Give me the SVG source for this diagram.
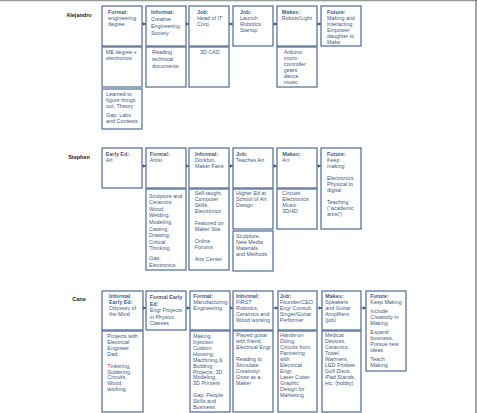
<svg xmlns="http://www.w3.org/2000/svg" width="477" height="413" viewBox="0 0 477 413">
<defs>
<style>
.box{fill:#fff;stroke:#4f6a92;stroke-width:1.2}
.t{font-family:"Liberation Sans",Arial,sans-serif;font-size:5.4px;fill:#3f5a82}
.b{font-weight:bold}
.name{font-family:"Liberation Sans",Arial,sans-serif;font-size:5.5px;font-weight:bold;fill:#222;text-anchor:middle}
.arr{stroke:#3f5a82;stroke-width:1;fill:none;marker-end:url(#ah)}
</style>
<marker id="ah" markerUnits="userSpaceOnUse" markerWidth="4" markerHeight="4" refX="3.5" refY="2" orient="auto">
<path d="M0,0 L3.5,2 L0,4 Z" fill="#3f5a82"/>
</marker>
</defs>
<rect x="0" y="0" width="477" height="413" fill="#fff"/>
<line x1="0" y1="0.5" x2="477" y2="0.5" stroke="#9a9a9a" stroke-width="1.5"/>
<line x1="476" y1="0" x2="476" y2="413" stroke="#555" stroke-width="1"/>

<text class="name" x="79" y="17">Alejandro</text>
<text class="name" x="79" y="158.5">Stephen</text>
<text class="name" x="79" y="301">Cane</text>

<g id="connectors">
<line class="arr" x1="142" y1="24" x2="146" y2="24"/>
<line class="arr" x1="186" y1="24" x2="189" y2="24"/>
<line class="arr" x1="229" y1="24" x2="233" y2="24"/>
<line class="arr" x1="273" y1="24" x2="277" y2="24"/>
<line class="arr" x1="317" y1="24" x2="321" y2="24"/>
<line class="arr" x1="142" y1="166" x2="146" y2="166"/>
<line class="arr" x1="186" y1="166" x2="189" y2="166"/>
<line class="arr" x1="229" y1="166" x2="233" y2="166"/>
<line class="arr" x1="273" y1="166" x2="277" y2="166"/>
<line class="arr" x1="317" y1="166" x2="321" y2="166"/>
<line class="arr" x1="143" y1="308" x2="146" y2="308"/>
<line class="arr" x1="186" y1="308" x2="190" y2="308"/>
<line class="arr" x1="230" y1="308" x2="233" y2="308"/>
<line class="arr" x1="273" y1="308" x2="278" y2="308"/>
<line class="arr" x1="317" y1="308" x2="322" y2="308"/>
<line class="arr" x1="361" y1="308" x2="366" y2="308"/>
</g>

<!-- Alejandro -->
<g id="a1"><rect class="box" x="102" y="6" width="40" height="40"/>
<text class="t"><tspan class="b" x="108" y="14.2">Formal:</tspan><tspan x="108" y="20.2">engineering</tspan><tspan x="108" y="26.2">degree</tspan></text></g>
<g id="a2"><rect class="box" x="146" y="6" width="40" height="40"/>
<text class="t"><tspan class="b" x="151" y="14.2">Informal:</tspan><tspan x="151" y="21.2">Creative</tspan><tspan x="151" y="27.9">Engineering</tspan><tspan x="151" y="34.6">Society</tspan></text></g>
<g id="a3"><rect class="box" x="189" y="6" width="40" height="40"/>
<text class="t"><tspan class="b" x="197" y="14.2">Job:</tspan><tspan x="197" y="20.2">Head of IT</tspan><tspan x="197" y="26.2">Corp</tspan></text></g>
<g id="a4"><rect class="box" x="233" y="6" width="40" height="40"/>
<text class="t"><tspan class="b" x="240" y="14.2">Job:</tspan><tspan x="240" y="20.2">Launch</tspan><tspan x="240" y="25.9">Robotics</tspan><tspan x="240" y="31.9">Startup</tspan></text></g>
<g id="a5"><rect class="box" x="277" y="6" width="40" height="40"/>
<text class="t"><tspan class="b" x="281.7" y="14.2">Makes:</tspan><tspan x="281.7" y="20.2">Robots/Light</tspan></text></g>
<g id="a6"><rect class="box" x="321" y="6" width="40" height="40"/>
<text class="t"><tspan class="b" x="327" y="14.2">Future:</tspan><tspan x="327" y="20.2">Making and</tspan><tspan x="327" y="25.9">Interacting;</tspan><tspan x="327" y="31.9">Empower</tspan><tspan x="327" y="37.9">daughter to</tspan><tspan x="327" y="43.9">Make</tspan></text></g>
<g id="a1b"><rect class="box" x="102" y="47" width="40" height="40"/>
<text class="t"><tspan x="106" y="53.6">ME degree +</tspan><tspan x="106" y="59.6">electronics</tspan></text></g>
<g id="a2b"><rect class="box" x="146" y="47" width="40" height="40"/>
<text class="t"><tspan x="152" y="54.2">Reading</tspan><tspan x="152" y="60.9">technical</tspan><tspan x="152" y="67.6">documents</tspan></text></g>
<g id="a3b"><rect class="box" x="189" y="47" width="40" height="40"/>
<text class="t"><tspan x="200" y="53.6">3D CAD</tspan></text></g>
<g id="a5b"><rect class="box" x="277" y="47" width="40" height="40"/>
<text class="t"><tspan x="283.7" y="53.6">Arduino</tspan><tspan x="283.7" y="59.6">micro-</tspan><tspan x="283.7" y="65.6">controller</tspan><tspan x="283.7" y="71.6">gears</tspan><tspan x="283.7" y="77.6">dance</tspan><tspan x="283.7" y="83.6">music</tspan></text></g>
<g id="a1c"><rect class="box" x="102" y="89" width="40" height="40"/>
<text class="t"><tspan x="106" y="96.2">Learned to</tspan><tspan x="106" y="102.2">figure things</tspan><tspan x="106" y="108.2">out; Theory</tspan><tspan x="106" y="116.9">Gap: Labs</tspan><tspan x="106" y="122.9">and Contests</tspan></text></g>

<!-- Stephen -->
<g id="b1"><rect class="box" x="102" y="148" width="40" height="40"/>
<text class="t"><tspan class="b" x="105.7" y="156.2">Early Ed:</tspan><tspan x="105.7" y="161.9">Art</tspan></text></g>
<g id="b2"><rect class="box" x="146" y="148" width="40" height="40"/>
<text class="t"><tspan class="b" x="149.7" y="156.2">Formal:</tspan><tspan x="149.7" y="161.9">Artist</tspan></text></g>
<g id="b3"><rect class="box" x="189" y="148" width="40" height="40"/>
<text class="t"><tspan class="b" x="195" y="156.2">Informal:</tspan><tspan x="195" y="161.9">Dorkbot,</tspan><tspan x="195" y="167.9">Maker Faire</tspan></text></g>
<g id="b4"><rect class="box" x="233" y="148" width="40" height="40"/>
<text class="t"><tspan class="b" x="236" y="156.2">Job:</tspan><tspan x="236" y="161.9">Teaches Art</tspan></text></g>
<g id="b5"><rect class="box" x="277" y="148" width="40" height="40"/>
<text class="t"><tspan class="b" x="282.3" y="156.2">Makes:</tspan><tspan x="282.3" y="161.9">Art</tspan></text></g>
<g id="b6"><rect class="box" x="321" y="148" width="40" height="81"/>
<text class="t"><tspan class="b" x="327" y="156.2">Future:</tspan><tspan x="327" y="161.9">Keep</tspan><tspan x="327" y="167.9">making</tspan><tspan x="327" y="179.6">Electronics,</tspan><tspan x="327" y="185.6">Physical to</tspan><tspan x="327" y="191.6">digital</tspan><tspan x="327" y="203.9">Teaching</tspan><tspan x="327" y="209.9">("academic</tspan><tspan x="327" y="215.6">artist")</tspan></text></g>
<g id="b2b"><rect class="box" x="146" y="189" width="40" height="81"/>
<text class="t"><tspan x="149" y="197.6">Sculpture and</tspan><tspan x="149" y="204.2">Ceramics</tspan><tspan x="149" y="210.9">Wood,</tspan><tspan x="149" y="217.2">Welding,</tspan><tspan x="149" y="223.9">Modeling,</tspan><tspan x="149" y="230.6">Casting,</tspan><tspan x="149" y="236.9">Drawing,</tspan><tspan x="149" y="243.6">Critical</tspan><tspan x="149" y="250.2">Thinking</tspan><tspan x="149" y="260.2">Gap:</tspan><tspan x="149" y="266.9">Electronics</tspan></text></g>
<g id="b3b"><rect class="box" x="189" y="189" width="40" height="81"/>
<text class="t"><tspan x="194.7" y="194.9">Self-taught</tspan><tspan x="194.7" y="200.9">Computer</tspan><tspan x="194.7" y="206.9">Skills,</tspan><tspan x="194.7" y="212.9">Electronics</tspan><tspan x="194.7" y="224.9">Featured on</tspan><tspan x="194.7" y="230.9">Maker Site</tspan><tspan x="194.7" y="242.9">Online</tspan><tspan x="194.7" y="248.9">Forums</tspan><tspan x="194.7" y="260.6">Arts Center</tspan></text></g>
<g id="b4b"><rect class="box" x="233" y="189" width="40" height="40"/>
<text class="t"><tspan x="236" y="194.6">Higher Ed at</tspan><tspan x="236" y="200.6">School of Art</tspan><tspan x="236" y="206.6">Design</tspan></text></g>
<g id="b4c"><rect class="box" x="233" y="231" width="40" height="40"/>
<text class="t"><tspan x="236" y="238.2">Sculpture,</tspan><tspan x="236" y="243.9">New Media</tspan><tspan x="236" y="249.9">Materials</tspan><tspan x="236" y="255.9">and Methods</tspan></text></g>
<g id="b5b"><rect class="box" x="277" y="189" width="40" height="40"/>
<text class="t"><tspan x="282.3" y="194.6">Circuits</tspan><tspan x="282.3" y="200.6">Electronics</tspan><tspan x="282.3" y="206.6">Music</tspan><tspan x="282.3" y="212.6">3D/4D</tspan></text></g>

<!-- Cane -->
<g id="c1"><rect class="box" x="102" y="291" width="41" height="39"/>
<text class="t"><tspan class="b" x="109" y="297.9">Informal</tspan><tspan class="b" x="109" y="303.9">Early Ed:</tspan><tspan x="109" y="309.9">Odyssey of</tspan><tspan x="109" y="315.9">the Mind</tspan></text></g>
<g id="c2"><rect class="box" x="146" y="291" width="40" height="39"/>
<text class="t"><tspan class="b" x="149.7" y="298.9">Formal Early</tspan><tspan class="b" x="149.7" y="305.6">Ed:</tspan><tspan x="149.7" y="312.2">Engr Projects</tspan><tspan x="149.7" y="318.6">in Physics</tspan><tspan x="149.7" y="325.2">Classes</tspan></text></g>
<g id="c3"><rect class="box" x="190" y="291" width="40" height="39"/>
<text class="t"><tspan class="b" x="193.3" y="297.9">Formal:</tspan><tspan x="193.3" y="303.9">Manufacturing</tspan><tspan x="193.3" y="309.9">Engineering</tspan></text></g>
<g id="c4"><rect class="box" x="233" y="291" width="40" height="39"/>
<text class="t"><tspan class="b" x="236" y="297.9">Informal:</tspan><tspan x="236" y="303.6">FIRST</tspan><tspan x="236" y="309.6">Robotics,</tspan><tspan x="236" y="315.6">Ceramics and</tspan><tspan x="236" y="321.6">Wood working</tspan></text></g>
<g id="c5"><rect class="box" x="278" y="291" width="39" height="39"/>
<text class="t"><tspan class="b" x="279.7" y="297.9">Job:</tspan><tspan x="279.7" y="303.6">Founder/CEO,</tspan><tspan x="279.7" y="309.6">Engr Consult,</tspan><tspan x="279.7" y="315.6">Singer/Guitar</tspan><tspan x="279.7" y="321.6">Performer</tspan></text></g>
<g id="c6"><rect class="box" x="322" y="291" width="39" height="39"/>
<text class="t"><tspan class="b" x="325.3" y="297.9">Makes:</tspan><tspan x="325.3" y="303.6">Speakers</tspan><tspan x="325.3" y="309.6">and Guitar</tspan><tspan x="325.3" y="315.6">Amplifiers</tspan><tspan x="325.3" y="321.6">(job)</tspan></text></g>
<g id="c7"><rect class="box" x="366" y="291" width="40" height="80"/>
<text class="t"><tspan class="b" x="370.3" y="297.9">Future:</tspan><tspan x="370.3" y="304.2">Keep Making</tspan><tspan x="370.3" y="312.9">Include</tspan><tspan x="370.3" y="318.9">Creativity in</tspan><tspan x="370.3" y="324.9">Making</tspan><tspan x="370.3" y="333.9">Expand</tspan><tspan x="370.3" y="339.9">business,</tspan><tspan x="370.3" y="345.9">Pursue new</tspan><tspan x="370.3" y="351.9">ideas</tspan><tspan x="370.3" y="360.9">Teach</tspan><tspan x="370.3" y="366.9">Making</tspan></text></g>
<g id="c1b"><rect class="box" x="102" y="331" width="41" height="81"/>
<text class="t"><tspan x="107.3" y="337.6">Projects with</tspan><tspan x="107.3" y="343.6">Electrical</tspan><tspan x="107.3" y="349.6">Engineer</tspan><tspan x="107.3" y="355.6">Dad:</tspan><tspan x="107.3" y="367.6">Tinkering,</tspan><tspan x="107.3" y="373.6">Soldering,</tspan><tspan x="107.3" y="379.2">Circuits,</tspan><tspan x="107.3" y="385.2">Wood</tspan><tspan x="107.3" y="391.2">working</tspan></text></g>
<g id="c3b"><rect class="box" x="190" y="331" width="40" height="81"/>
<text class="t"><tspan x="193" y="337.6">Making</tspan><tspan x="193" y="343.6">Injection</tspan><tspan x="193" y="349.6">Custom</tspan><tspan x="193" y="355.6">Housing;</tspan><tspan x="193" y="361.6">Machining &amp;</tspan><tspan x="193" y="367.6">Building</tspan><tspan x="193" y="373.6">Projects, 3D</tspan><tspan x="193" y="379.2">Modeling,</tspan><tspan x="193" y="385.2">3D Printers</tspan><tspan x="193" y="397.2">Gap: People</tspan><tspan x="193" y="403.2">Skills and</tspan><tspan x="193" y="408.9">Business</tspan></text></g>
<g id="c4b"><rect class="box" x="233" y="331" width="40" height="81"/>
<text class="t"><tspan x="236" y="336.9">Played guitar</tspan><tspan x="236" y="342.9">with friend,</tspan><tspan x="236" y="348.9">Electrical Engr</tspan><tspan x="236" y="360.9">Reading to</tspan><tspan x="236" y="366.9">Stimulate</tspan><tspan x="236" y="372.9">Creativity/</tspan><tspan x="236" y="378.9">Grow as a</tspan><tspan x="236" y="384.9">Maker</tspan></text></g>
<g id="c5b"><rect class="box" x="278" y="331" width="39" height="81"/>
<text class="t"><tspan x="280" y="336.9">Hands-on</tspan><tspan x="280" y="342.9">Doing,</tspan><tspan x="280" y="348.9">Circuits from</tspan><tspan x="280" y="354.9">Partnering</tspan><tspan x="280" y="360.9">with</tspan><tspan x="280" y="366.9">Electrical</tspan><tspan x="280" y="372.9">Engr,</tspan><tspan x="280" y="378.9">Laser Cutter,</tspan><tspan x="280" y="384.9">Graphic</tspan><tspan x="280" y="390.9">Design for</tspan><tspan x="280" y="396.9">Marketing</tspan></text></g>
<g id="c6b"><rect class="box" x="322" y="331" width="39" height="81"/>
<text class="t"><tspan x="325" y="336.9">Medical</tspan><tspan x="325" y="342.9">Devices,</tspan><tspan x="325" y="348.9">Ceramics,</tspan><tspan x="325" y="354.9">Towel</tspan><tspan x="325" y="360.9">Warmers,</tspan><tspan x="325" y="366.9">LED Frisbee</tspan><tspan x="325" y="372.9">Golf Discs,</tspan><tspan x="325" y="378.9">iPad Stands,</tspan><tspan x="325" y="384.9">etc. (hobby)</tspan></text></g>
</svg>
